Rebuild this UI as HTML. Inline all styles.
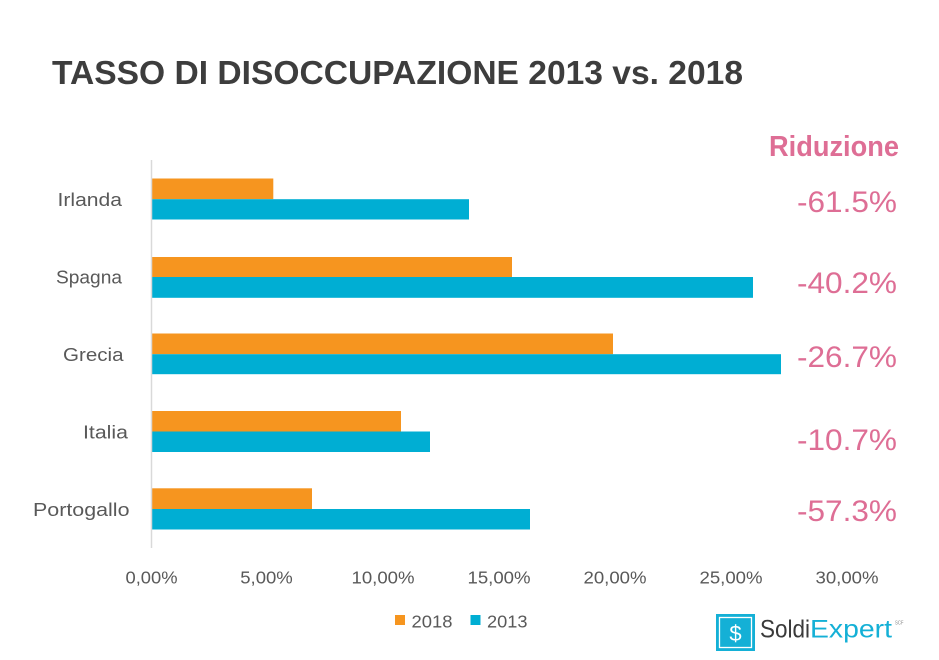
<!DOCTYPE html>
<html>
<head>
<meta charset="utf-8">
<style>
html,body{margin:0;padding:0;background:#fff;}
svg{display:block;}
</style>
</head>
<body>
<svg width="939" height="660" viewBox="0 0 939 660" xmlns="http://www.w3.org/2000/svg">
  <rect x="0" y="0" width="939" height="660" fill="#ffffff"/>

  <!-- Title -->
  <text x="52" y="84" font-family="Liberation Sans, sans-serif" font-weight="bold" font-size="33" fill="#3d3d3d" textLength="691" lengthAdjust="spacingAndGlyphs">TASSO DI DISOCCUPAZIONE 2013 vs. 2018</text>

  <!-- Riduzione header -->
  <text x="769" y="156" font-family="Liberation Sans, sans-serif" font-weight="bold" font-size="29" fill="#de6e95" textLength="130" lengthAdjust="spacingAndGlyphs">Riduzione</text>

  <!-- Percentages -->
  <g font-family="Liberation Sans, sans-serif" font-size="29.5" fill="#de6e95">
    <text x="797" y="212" textLength="100" lengthAdjust="spacingAndGlyphs">-61.5%</text>
    <text x="797" y="293" textLength="100" lengthAdjust="spacingAndGlyphs">-40.2%</text>
    <text x="797" y="367" textLength="100" lengthAdjust="spacingAndGlyphs">-26.7%</text>
    <text x="797" y="450" textLength="100" lengthAdjust="spacingAndGlyphs">-10.7%</text>
    <text x="797" y="521" textLength="100" lengthAdjust="spacingAndGlyphs">-57.3%</text>
  </g>

  <!-- Bars -->
  <g>
    <!-- Irlanda -->
    <rect x="152" y="178.5" width="121.3" height="20.7" fill="#f6951f"/>
    <rect x="152" y="199.2" width="317" height="20.3" fill="#00aed3"/>
    <!-- Spagna -->
    <rect x="152" y="257" width="360" height="20" fill="#f6951f"/>
    <rect x="152" y="277" width="601" height="20.8" fill="#00aed3"/>
    <!-- Grecia -->
    <rect x="152" y="333.5" width="461" height="20.7" fill="#f6951f"/>
    <rect x="152" y="354.2" width="629" height="20" fill="#00aed3"/>
    <!-- Italia -->
    <rect x="152" y="411" width="249" height="20.5" fill="#f6951f"/>
    <rect x="152" y="431.5" width="278" height="20.5" fill="#00aed3"/>
    <!-- Portogallo -->
    <rect x="152" y="488.3" width="160" height="20.7" fill="#f6951f"/>
    <rect x="152" y="509" width="378" height="20.5" fill="#00aed3"/>
  </g>

  <!-- Axis line -->
  <line x1="151.5" y1="160" x2="151.5" y2="548" stroke="#d9d9d9" stroke-width="1.5"/>

  <!-- Category labels -->
  <g font-family="Liberation Sans, sans-serif" font-size="18" fill="#595959">
    <text x="57.5" y="206" textLength="64.5" lengthAdjust="spacingAndGlyphs">Irlanda</text>
    <text x="56" y="283.5" textLength="66" lengthAdjust="spacingAndGlyphs">Spagna</text>
    <text x="63" y="361" textLength="60.5" lengthAdjust="spacingAndGlyphs">Grecia</text>
    <text x="83" y="438.5" textLength="45" lengthAdjust="spacingAndGlyphs">Italia</text>
    <text x="33" y="516" textLength="96.5" lengthAdjust="spacingAndGlyphs">Portogallo</text>
  </g>

  <!-- X tick labels -->
  <g font-family="Liberation Sans, sans-serif" font-size="17.5" fill="#595959" text-anchor="middle">
    <text x="151.5" y="583.5" textLength="52" lengthAdjust="spacingAndGlyphs">0,00%</text>
    <text x="266.5" y="583.5" textLength="52.5" lengthAdjust="spacingAndGlyphs">5,00%</text>
    <text x="383" y="583.5" textLength="63" lengthAdjust="spacingAndGlyphs">10,00%</text>
    <text x="499" y="583.5" textLength="63" lengthAdjust="spacingAndGlyphs">15,00%</text>
    <text x="615" y="583.5" textLength="63" lengthAdjust="spacingAndGlyphs">20,00%</text>
    <text x="731" y="583.5" textLength="63" lengthAdjust="spacingAndGlyphs">25,00%</text>
    <text x="847" y="583.5" textLength="63" lengthAdjust="spacingAndGlyphs">30,00%</text>
  </g>

  <!-- Legend -->
  <rect x="395" y="615" width="10" height="10" fill="#f6951f"/>
  <text x="411.5" y="627.5" font-family="Liberation Sans, sans-serif" font-size="17.5" fill="#595959" textLength="41" lengthAdjust="spacingAndGlyphs">2018</text>
  <rect x="470.5" y="615" width="10" height="10" fill="#00aed3"/>
  <text x="487" y="627.5" font-family="Liberation Sans, sans-serif" font-size="17.5" fill="#595959" textLength="40.5" lengthAdjust="spacingAndGlyphs">2013</text>

  <!-- Logo -->
  <rect x="716" y="614" width="39" height="37" fill="#14b0d6"/>
  <rect x="719.5" y="617.5" width="32" height="30" fill="none" stroke="#ffffff" stroke-width="1.3"/>
  <text x="735.5" y="641" font-family="Liberation Sans, sans-serif" font-size="22" fill="#ffffff" text-anchor="middle">$</text>
  <text x="760" y="637.5" font-family="Liberation Sans, sans-serif" font-size="25" fill="#3a3a3a" textLength="50" lengthAdjust="spacingAndGlyphs">Soldi</text>
  <text x="810" y="637.5" font-family="Liberation Sans, sans-serif" font-size="25" fill="#14b0d6" textLength="82" lengthAdjust="spacingAndGlyphs">Expert</text>
  <text x="895" y="624.5" font-family="Liberation Sans, sans-serif" font-size="5" fill="#888888" textLength="8.5" lengthAdjust="spacingAndGlyphs">SCF</text>
</svg>
</body>
</html>
